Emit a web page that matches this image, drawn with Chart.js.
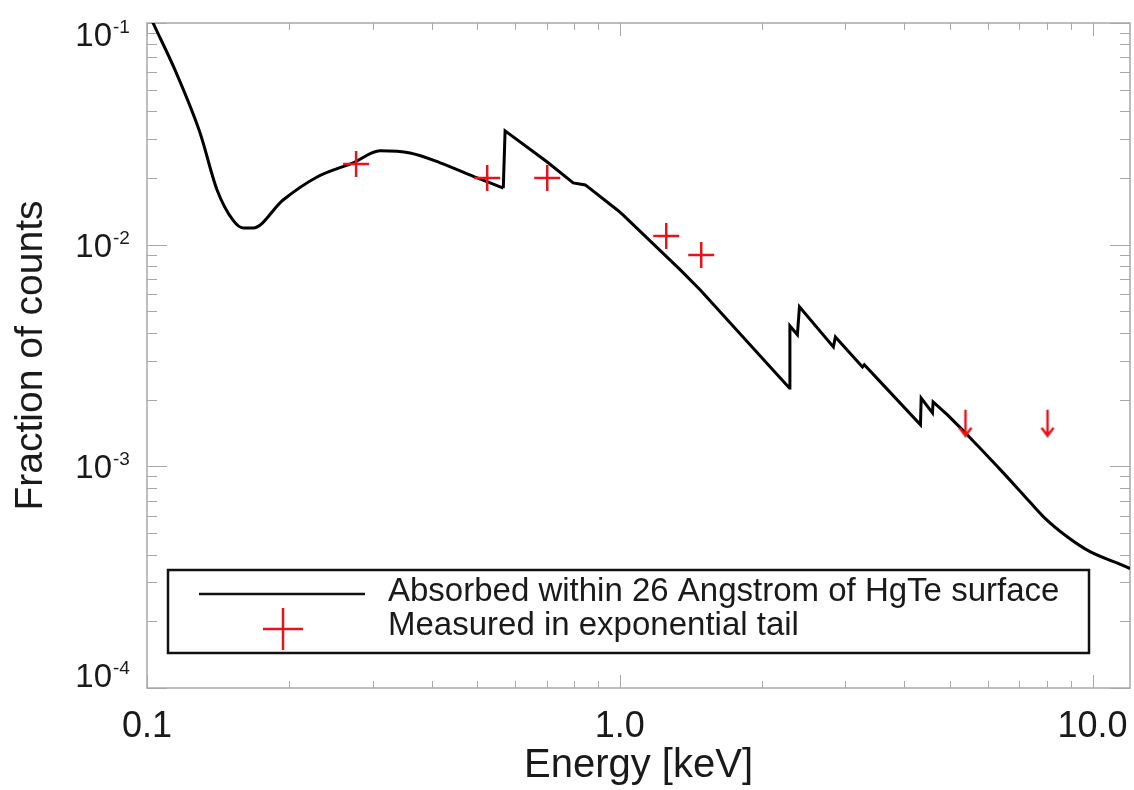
<!DOCTYPE html>
<html>
<head>
<meta charset="utf-8">
<script src="https://cdn.jsdelivr.net/npm/chart.js@4.4.1/dist/chart.umd.min.js"></script>
<style>
  html, body { margin: 0; padding: 0; background: #fff; }
  #wrap { width: 1134px; height: 790px; }
</style>
</head>
<body>
<div id="wrap"><canvas id="chart" width="1134" height="790"></canvas></div>
<script>
// model curve: fraction of counts absorbed near the surface
const curveEnergy = [0.1, 0.103, 0.1146, 0.1295, 0.1406, 0.152, 0.1597, 0.1676, 0.194, 0.229,
  0.2729, 0.3112, 0.3601, 0.417, 0.4994, 0.567, 0.572, 0.7024, 0.797, 0.8455,
  0.988, 1.017, 1.343, 1.48, 2.284, 2.29, 2.375, 2.399, 2.83, 2.858,
  3.261, 3.29, 3.525, 4.325, 4.34, 4.585, 4.6, 4.933, 5.437, 6.387,
  7.145, 7.875, 8.853, 9.9, 11.92, 12.0];
const curveFraction = [0.115, 0.100, 0.0614, 0.0319, 0.0177, 0.0129, 0.0119, 0.0119, 0.0159, 0.0202,
  0.0234, 0.0265, 0.0259, 0.0234, 0.0200, 0.0180, 0.0326, 0.0236, 0.0190, 0.0186,
  0.01434, 0.0136, 0.00769, 0.00625, 0.002258, 0.0043, 0.00392, 0.00524, 0.003456, 0.003837,
  0.002807, 0.00287, 0.002455, 0.001538, 0.002034, 0.001742, 0.001952, 0.001706, 0.001386, 0.000964,
  0.000743, 0.000592, 0.00048, 0.000411, 0.000348, 0.000345];
// the curve is smooth below the first edge and above the last edge, sawtooth in between
const edgeStart = 0.567;
const edgeEnd = 5.437;

// measured points
const pointEnergy = [0.2769, 0.5243, 0.7024, 1.254, 1.487];
const pointFraction = [0.0231, 0.0200, 0.0200, 0.01094, 0.00899];

// upper limits (arrows)
const limitEnergy = [5.385, 8.03];
const limitFraction = [0.0018, 0.0018];

const xTicks = [0.1, 1, 10];
const xTickLabels = ["0.1", "1.0", "10.0"];
const yTicks = [1e-1, 1e-2, 1e-3, 1e-4];
const yTickExp = ["-1", "-2", "-3", "-4"];

const seriesLabels = ["Absorbed within 26 Angstrom of HgTe surface", "Measured in exponential tail"];

const FONT = '"Liberation Sans", Arial, Helvetica, sans-serif';
const RED = "#e3141c";
const AXIS = "#a8a8a8";

const toXY = (xs, ys) => xs.map((v, i) => ({ x: v, y: ys[i] }));
const curvePts = toXY(curveEnergy, curveFraction);
const i1 = curveEnergy.indexOf(edgeStart);
const i2 = curveEnergy.indexOf(edgeEnd);

const curveStyle = (data, smooth) => ({
  label: seriesLabels[0],
  data,
  showLine: true,
  borderColor: "#000",
  borderWidth: 3,
  pointRadius: 0,
  cubicInterpolationMode: smooth ? "monotone" : "default",
  tension: 0,
  order: 2
});

// arrow marker, value sits at the top of the arrow
const arrowImg = document.createElement("canvas");
arrowImg.width = 16;
arrowImg.height = 56;
(() => {
  const c = arrowImg.getContext("2d");
  c.strokeStyle = RED;
  c.lineWidth = 2.5;
  c.beginPath();
  c.moveTo(8, 28); c.lineTo(8, 54);
  c.moveTo(2, 46); c.lineTo(8, 54); c.lineTo(14, 46);
  c.stroke();
})();

const framePlugin = {
  id: "frame",
  beforeDatasetsDraw(chart) {
    const { ctx, chartArea: a, scales: { x, y } } = chart;
    ctx.save();
    ctx.strokeStyle = AXIS;
    ctx.lineWidth = 1;
    ctx.beginPath();
    // x ticks, bottom and top
    for (let d = -1; d <= 1; d++) {
      for (let m = 1; m <= 9; m++) {
        const v = m * Math.pow(10, d);
        if (v < x.min || v > x.max) continue;
        const px = Math.round(x.getPixelForValue(v)) + 0.5;
        const len = m === 1 ? 13 : 7;
        ctx.moveTo(px, a.bottom); ctx.lineTo(px, a.bottom - len);
        ctx.moveTo(px, a.top); ctx.lineTo(px, a.top + len);
      }
    }
    // y ticks, left and right
    for (let d = -4; d <= -1; d++) {
      for (let m = 1; m <= 9; m++) {
        const v = m * Math.pow(10, d);
        if (v < y.min * 0.999 || v > y.max * 1.001) continue;
        const py = Math.round(y.getPixelForValue(v)) + 0.5;
        const len = m === 1 ? 20 : 10;
        ctx.moveTo(a.left, py); ctx.lineTo(a.left + len, py);
        ctx.moveTo(a.right, py); ctx.lineTo(a.right - len, py);
      }
    }
    ctx.stroke();
    ctx.lineWidth = 1.5;
    ctx.strokeRect(a.left, a.top, a.right - a.left, a.bottom - a.top);
    ctx.restore();
  },
  afterDraw(chart) {
    const { ctx, chartArea: a, scales: { x, y } } = chart;
    ctx.save();
    ctx.fillStyle = "#1a1a1a";

    // x tick labels
    ctx.font = "36px " + FONT;
    ctx.textAlign = "center";
    ctx.textBaseline = "alphabetic";
    xTicks.forEach((v, i) => {
      ctx.fillText(xTickLabels[i], x.getPixelForValue(v), 737);
    });

    // y tick labels 10^n
    yTicks.forEach((v, i) => {
      let cy = y.getPixelForValue(v);
      cy = Math.min(Math.max(cy, a.top + 11), a.bottom - 13);
      ctx.font = "33px " + FONT;
      ctx.textAlign = "right";
      ctx.fillText("10", 112, cy + 12);
      ctx.font = "19px " + FONT;
      ctx.textAlign = "left";
      ctx.fillText(yTickExp[i], 113, cy - 1);
    });

    // axis titles
    ctx.font = "40px " + FONT;
    ctx.textAlign = "center";
    ctx.fillText("Energy [keV]", (a.left + a.right) / 2, 777);
    ctx.save();
    ctx.translate(42, (a.top + a.bottom) / 2);
    ctx.rotate(-Math.PI / 2);
    ctx.font = "39px " + FONT;
    ctx.fillText("Fraction of counts", 0, 0);
    ctx.restore();

    // legend box
    ctx.fillStyle = "#fff";
    ctx.fillRect(168, 570, 921, 83);
    ctx.strokeStyle = "#111";
    ctx.lineWidth = 2.5;
    ctx.strokeRect(168, 570, 921, 83);
    ctx.beginPath();
    ctx.moveTo(199, 594); ctx.lineTo(365, 594);
    ctx.stroke();
    ctx.strokeStyle = RED;
    ctx.beginPath();
    ctx.moveTo(263, 629); ctx.lineTo(303, 629);
    ctx.moveTo(283, 608); ctx.lineTo(283, 650);
    ctx.stroke();
    ctx.fillStyle = "#1a1a1a";
    ctx.font = "33px " + FONT;
    ctx.textAlign = "left";
    ctx.textBaseline = "middle";
    ctx.fillText(seriesLabels[0], 388, 592);
    ctx.fillText(seriesLabels[1], 388, 626);
    ctx.restore();
  }
};

new Chart(document.getElementById("chart").getContext("2d"), {
  type: "scatter",
  data: {
    datasets: [
      curveStyle(curvePts.slice(0, i1 + 1), true),
      curveStyle(curvePts.slice(i1, i2 + 1), false),
      curveStyle(curvePts.slice(i2), true),
      {
        label: seriesLabels[1],
        data: toXY(pointEnergy, pointFraction),
        pointStyle: "cross",
        pointRadius: 13,
        borderColor: RED,
        borderWidth: 2.5,
        order: 1
      },
      {
        label: "upper limits",
        data: toXY(limitEnergy, limitFraction),
        pointStyle: arrowImg,
        order: 1
      }
    ]
  },
  options: {
    responsive: false,
    animation: false,
    devicePixelRatio: 1,
    layout: { autoPadding: false, padding: { left: 147, right: 4, top: 23, bottom: 102 } },
    plugins: { legend: { display: false }, tooltip: { enabled: false } },
    scales: {
      x: { type: "logarithmic", min: 0.1, max: 12.0, display: false },
      y: { type: "logarithmic", min: 1e-4, max: 1e-1, display: false }
    }
  },
  plugins: [framePlugin]
});
</script>
</body>
</html>
